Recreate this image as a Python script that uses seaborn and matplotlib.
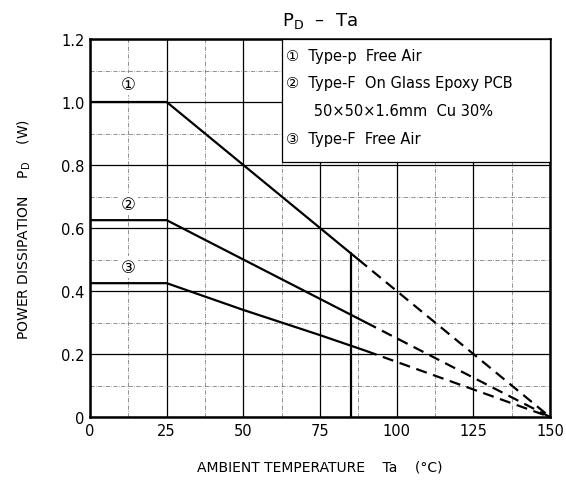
import numpy as np
import pandas as pd
import matplotlib.pyplot as plt
import seaborn as sns

sns.set_theme(style="white")
plt.rcParams['font.family'] = ['DejaVu Sans', 'Noto Sans CJK JP']
plt.rcParams.update({"text.color": "black", "axes.labelcolor": "black",
                     "xtick.color": "black", "ytick.color": "black"})

# solid (rated) part of each derating curve
temp_1 = [0, 25, 87.5]
pd_1 = [1.0, 1.0, 0.5]
temp_2 = [0, 25, 90]
pd_2 = [0.625, 0.625, 0.30]
temp_3 = [0, 25, 50, 75, 90]
pd_3 = [0.425, 0.425, 0.34, 0.26, 0.21]

# dashed extension down to Tj max
ext_temp_1 = [87.5, 150]
ext_pd_1 = [0.5, 0.0]
ext_temp_2 = [90, 150]
ext_pd_2 = [0.30, 0.0]
ext_temp_3 = [90, 150]
ext_pd_3 = [0.21, 0.0]

# vertical marker at 85 degC
marker_temp = [85, 85]
marker_pd = [0.0, 0.52]

legend_lines = ["\u2460  Type-p  Free Air",
                "\u2461  Type-F  On Glass Epoxy PCB",
                "      50\u00d750\u00d71.6mm  Cu 30%",
                "\u2462  Type-F  Free Air"]
curve_tags = ["\u2460", "\u2461", "\u2462"]
tag_pd = [1.057, 0.676, 0.476]

fig = plt.figure(figsize=(5.66, 4.85), dpi=100)
ax = fig.add_axes([0.159, 0.138, 0.813, 0.7795])

solid = pd.concat([
    pd.DataFrame({"Ta": temp_1, "PD": pd_1, "curve": "1"}),
    pd.DataFrame({"Ta": temp_2, "PD": pd_2, "curve": "2"}),
    pd.DataFrame({"Ta": temp_3, "PD": pd_3, "curve": "3"}),
    pd.DataFrame({"Ta": marker_temp, "PD": marker_pd, "curve": "85"}),
])
dashed = pd.concat([
    pd.DataFrame({"Ta": ext_temp_1, "PD": ext_pd_1, "curve": "1"}),
    pd.DataFrame({"Ta": ext_temp_2, "PD": ext_pd_2, "curve": "2"}),
    pd.DataFrame({"Ta": ext_temp_3, "PD": ext_pd_3, "curve": "3"}),
])

sns.lineplot(data=solid, x="Ta", y="PD", units="curve", estimator=None,
             sort=False, color="black", lw=1.6, ax=ax, zorder=5)
sns.lineplot(data=dashed, x="Ta", y="PD", units="curve", estimator=None,
             sort=False, color="black", lw=1.6, ax=ax, zorder=5,
             linestyle=(0, (5, 3)))

ax.set_xlim(0, 150)
ax.set_ylim(0, 1.2)
ax.set_xticks(np.arange(0, 151, 25))
ax.set_yticks(np.arange(0, 1.21, 0.2))
ax.set_yticklabels(["0", "0.2", "0.4", "0.6", "0.8", "1.0", "1.2"])
ax.set_xticks(np.arange(0, 151, 12.5), minor=True)
ax.set_yticks(np.arange(0, 1.21, 0.1), minor=True)
ax.grid(which="major", color="black", lw=0.9)
ax.grid(which="minor", color="#666666", lw=0.5, linestyle=(0, (6, 2, 1, 2)))
ax.tick_params(which="both", length=0, labelsize=10.5, pad=4)
for s in ax.spines.values():
    s.set_color("black")
    s.set_linewidth(1.8)

# legend box in the upper right
ax.add_patch(plt.Rectangle((62.5, 0.81), 87.5, 0.39, facecolor="white",
                           edgecolor="black", lw=0.9, zorder=3))
for txt, yv in zip(legend_lines, [1.147, 1.063, 0.972, 0.883]):
    ax.text(63.8, yv, txt, fontsize=10.5, va="center", ha="left", zorder=4)

for tag, yv in zip(curve_tags, tag_pd):
    ax.text(12.5, yv, tag, fontsize=12, ha="center", va="center", zorder=4,
            bbox=dict(facecolor="white", edgecolor="none", pad=1.5))

ax.set_title("P$_\\mathregular{D}$  \u2013  Ta", fontsize=13, pad=10)
ax.set_xlabel("AMBIENT TEMPERATURE    Ta    (\u00b0C)", fontsize=10, labelpad=16)
ax.set_ylabel("POWER DISSIPATION    P$_\\mathregular{D}$    (W)", fontsize=10, labelpad=20)

fig.savefig("out.png", dpi=100)
